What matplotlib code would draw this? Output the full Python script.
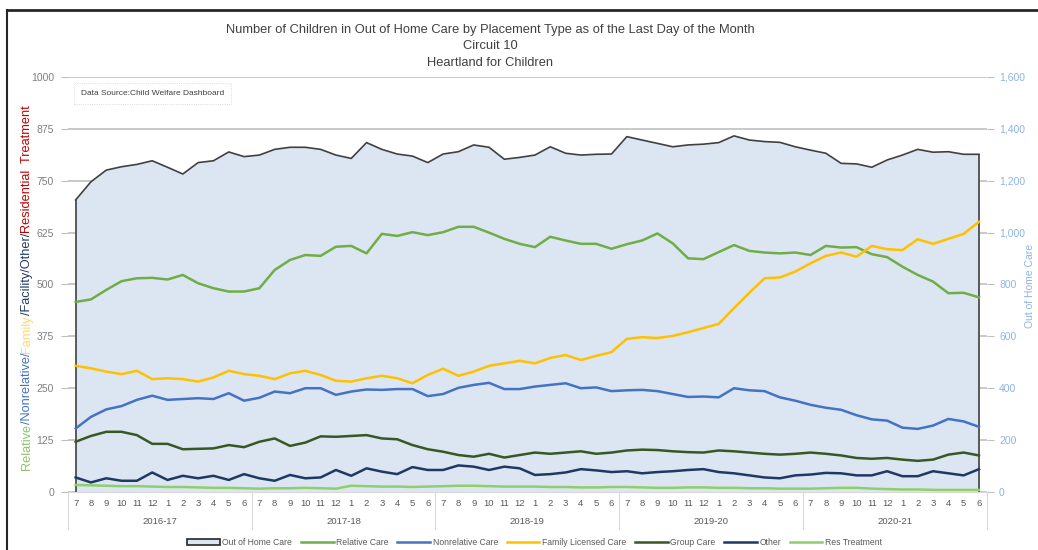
import matplotlib
matplotlib.use('Agg')
import matplotlib.pyplot as plt
from matplotlib.patches import Patch
from matplotlib.lines import Line2D

FONT = ['Liberation Sans Narrow', 'Liberation Sans', 'DejaVu Sans']
plt.rcParams['font.family'] = FONT

# month labels, Jul 2016 .. Jun 2021
months = [7, 8, 9, 10, 11, 12, 1, 2, 3, 4, 5, 6] * 5
fiscal_years = ['2016-17', '2017-18', '2018-19', '2019-20', '2020-21']

# right axis
out_of_home = [1126, 1196, 1241, 1254, 1263, 1277, 1252, 1226, 1270, 1277, 1311, 1293,
               1299, 1321, 1329, 1329, 1321, 1299, 1286, 1347, 1321, 1303, 1295, 1270,
               1303, 1312, 1338, 1329, 1283, 1290, 1299, 1331, 1306, 1299, 1302, 1303,
               1370, 1357, 1344, 1331, 1338, 1341, 1347, 1373, 1357, 1351, 1348, 1331,
               1318, 1306, 1267, 1265, 1252, 1280, 1299, 1321, 1310, 1312, 1302, 1302]

# left axis
relative = [458, 464, 487, 508, 515, 516, 512, 523, 503, 491, 483, 483,
            491, 535, 559, 571, 569, 591, 593, 575, 622, 617, 626, 619,
            626, 639, 639, 625, 610, 598, 590, 615, 606, 598, 598, 586,
            597, 606, 623, 599, 563, 561, 578, 595, 581, 577, 575, 577,
            571, 593, 589, 590, 573, 566, 543, 523, 507, 479, 480, 469]
nonrelative = [153, 181, 199, 207, 222, 232, 222, 224, 226, 224, 238, 220,
               227, 242, 238, 250, 250, 234, 242, 247, 246, 248, 248, 231,
               236, 251, 258, 263, 248, 248, 254, 258, 262, 250, 252, 243,
               245, 246, 243, 236, 229, 230, 228, 250, 245, 243, 228, 220,
               210, 203, 198, 185, 175, 172, 155, 152, 160, 176, 170, 157]
family_licensed = [304, 298, 290, 284, 292, 272, 274, 272, 266, 276, 292, 284,
                   280, 272, 286, 292, 282, 268, 266, 274, 280, 274, 262, 282,
                   297, 280, 290, 304, 310, 316, 310, 323, 330, 318, 328, 337,
                   369, 373, 371, 376, 385, 395, 405, 443, 480, 515, 517, 531,
                   551, 569, 577, 567, 593, 585, 583, 609, 598, 610, 622, 651]
group_care = [121, 135, 145, 145, 137, 116, 116, 103, 104, 105, 113, 108,
              121, 129, 111, 119, 134, 133, 135, 137, 129, 127, 113, 103,
              97, 89, 85, 92, 83, 89, 95, 92, 95, 98, 92, 95,
              100, 102, 101, 98, 96, 95, 100, 98, 95, 92, 90, 92,
              95, 92, 88, 82, 80, 82, 78, 75, 78, 90, 95, 88]
other = [35, 23, 33, 27, 27, 47, 29, 39, 33, 39, 29, 43,
         33, 27, 41, 33, 35, 53, 39, 57, 49, 43, 60, 53,
         53, 64, 61, 53, 61, 57, 41, 43, 47, 55, 52, 48,
         50, 45, 48, 50, 53, 55, 48, 45, 40, 35, 33, 40,
         42, 46, 45, 40, 40, 50, 38, 38, 50, 45, 40, 55]
res_treatment = [17, 16, 15, 14, 14, 13, 12, 12, 11, 10, 10, 9,
                 8, 9, 9, 10, 9, 8, 15, 14, 13, 13, 12, 13,
                 14, 15, 15, 14, 13, 13, 13, 12, 12, 11, 11, 12,
                 12, 11, 10, 10, 11, 11, 10, 10, 9, 9, 8, 8,
                 8, 9, 10, 10, 8, 7, 6, 6, 5, 5, 5, 5]

series = [
    ('Relative Care', relative, '#70ad47'),
    ('Nonrelative Care', nonrelative, '#4472c4'),
    ('Family Licensed Care', family_licensed, '#ffc000'),
    ('Group Care', group_care, '#385723'),
    ('Other', other, '#203864'),
    ('Res Treatment', res_treatment, '#8fcf6b'),
]

FILL = '#dce6f2'
x = list(range(len(months)))

fig = plt.figure(figsize=(10.38, 5.5), dpi=100)
ax = fig.add_axes([0.0655, 0.1055, 0.885, 0.7545])
ax2 = ax.twinx()

# fill on the secondary axis, drawn behind the lines
ax.set_zorder(2)
ax.patch.set_visible(False)
ax2.set_zorder(1)

ax2.set_axisbelow(True)
ax2.grid(axis='y', color='#bfbfbf', linewidth=1.2)
ax2.fill_between(x, out_of_home, color=FILL, linewidth=0, zorder=2)
ax2.plot(x, out_of_home, color='#404040', linewidth=1.2, zorder=3)
ax2.vlines([x[0], x[-1]], 0, [out_of_home[0], out_of_home[-1]], color='#404040', linewidth=1.2, zorder=3)

for name, vals, col in series:
    ax.plot(x, vals, color=col, linewidth=1.8)

ax.set_xlim(-0.5, 59.5)
ax.set_ylim(0, 1000)
ax2.set_ylim(0, 1600)
ax.set_yticks(range(0, 1001, 125))
ax2.set_yticks(range(0, 1601, 200))
ax2.set_yticklabels([f'{v:,}' for v in range(0, 1601, 200)])

ax.set_xticks(x)
ax.set_xticklabels([str(m) for m in months])
ax.tick_params(axis='x', length=0, labelsize=6.8, labelcolor='#595959', pad=5)
ax.tick_params(axis='y', length=5, color='#bfbfbf', labelsize=7.5, labelcolor='#7f7f7f', pad=5)
ax2.tick_params(axis='y', length=5, color='#bfbfbf', labelsize=7.5, labelcolor='#8eb4e3', pad=4)
ax2.tick_params(axis='x', length=0)

for a in (ax, ax2):
    for s in a.spines.values():
        s.set_visible(False)
ax.spines['bottom'].set_visible(True)
ax.spines['bottom'].set_color('#d9d9d9')

# fiscal year labels and separators under the month labels
trans = ax.get_xaxis_transform()
for k, fy in enumerate(fiscal_years):
    ax.text(5.5 + 12 * k, -0.07, fy, transform=trans, ha='center', va='center',
            fontsize=6.8, color='#595959')
for k in range(len(fiscal_years) + 1):
    ax.plot([12 * k - 0.5] * 2, [0, -0.09], transform=trans, color='#d9d9d9',
            linewidth=0.8, clip_on=False)

# right axis title, kept just inside the right edge
fig.text(0.997, 0.48, 'Out of Home Care', rotation=90, ha='right', va='center',
         fontsize=7.5, color='#8eb4e3')

fig.text(0.472, 0.945, 'Number of Children in Out of Home Care by Placement Type as of the Last Day of the Month',
         ha='center', va='center', fontsize=9.3, color='#404040')
fig.text(0.472, 0.916, 'Circuit 10', ha='center', va='center', fontsize=9.3, color='#404040')
fig.text(0.472, 0.886, 'Heartland for Children', ha='center', va='center', fontsize=9.3, color='#404040')

ax.text(0.014, 0.96, 'Data Source:Child Welfare Dashboard', transform=ax.transAxes,
        ha='left', va='center', fontsize=6, color='#404040',
        bbox=dict(boxstyle='square,pad=0.8', fc='white', ec='#d0d0d0', lw=0.6, ls=':'))

# multi coloured left axis title
pieces = [('Relative', '#8cc46a'), ('/Nonrelative/', '#4472c4'), ('Family', '#ffd966'),
          ('/Facility/Other/', '#1f3864'), ('Residential  Treatment', '#c00000')]
renderer = fig.canvas.get_renderer()
ypos = 0.145
for txt, col in pieces:
    t = fig.text(0.026, ypos, txt, color=col, rotation=90, ha='center', va='bottom', fontsize=9.2)
    bb = t.get_window_extent(renderer=renderer)
    ypos += bb.height / fig.bbox.height

handles = [Patch(facecolor=FILL, edgecolor='#262626', linewidth=1.2, label='Out of Home Care')]
for name, vals, col in series:
    handles.append(Line2D([], [], color=col, linewidth=1.8, label=name))
fig.legend(handles=handles, loc='center', bbox_to_anchor=(0.515, 0.013), ncol=7, frameon=False,
           fontsize=6.2, labelcolor='#595959', handlelength=3.8, handletextpad=0.3, columnspacing=1.0)

# frame of the slide
fig.add_artist(Line2D([0.007, 0.007], [0, 0.982], color='#262626', linewidth=1.5))
fig.add_artist(Line2D([0.007, 1], [0.982, 0.982], color='#262626', linewidth=2))

fig.savefig('out.png', dpi=100)
